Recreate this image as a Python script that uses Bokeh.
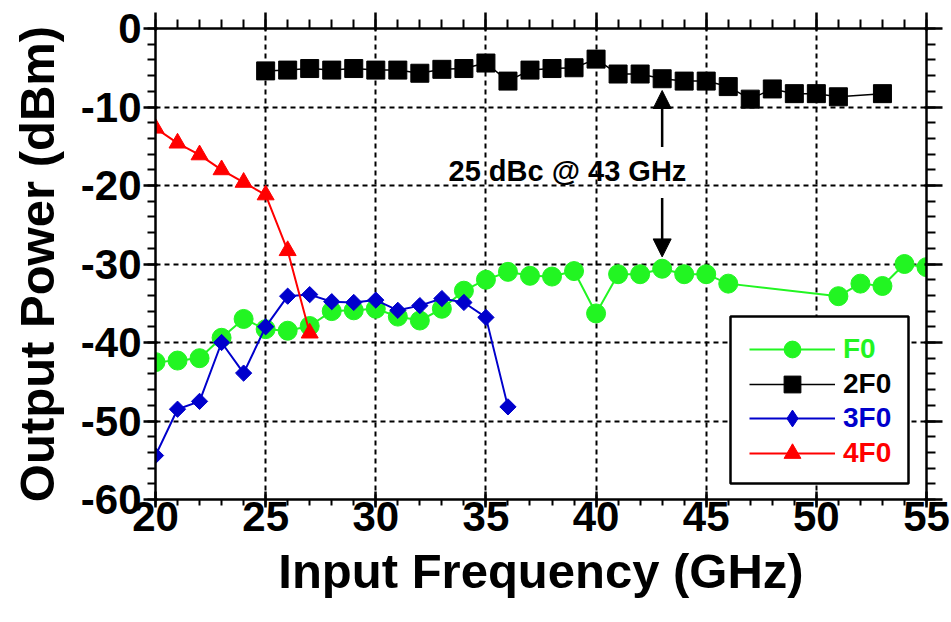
import math
from bokeh.plotting import figure
from bokeh.models import (Range1d, LinearAxis, SingleIntervalTicker, Legend, LegendItem,
                          Arrow, NormalHead, Label, BoxAnnotation, CustomJSTickFormatter)
from bokeh.embed import file_html
from bokeh.resources import INLINE

# ---------------- data ----------------
freq_f0 = [20, 21, 22, 23, 24, 25, 26, 27, 28, 29, 30, 31, 32, 33, 34, 35, 36, 37, 38, 39,
           40, 41, 42, 43, 44, 45, 46, 51, 52, 53, 54, 55]
pow_f0 = [-42.5, -42.3, -42.0, -39.4, -37.0, -38.3, -38.5, -37.9, -36.0, -35.9, -35.7, -36.7,
          -37.2, -35.7, -33.4, -32.0, -31.0, -31.5, -31.6, -30.9, -36.3, -31.3, -31.3, -30.6,
          -31.3, -31.3, -32.5, -34.1, -32.5, -32.8, -30.0, -30.4]

freq_2f0 = [25, 26, 27, 28, 29, 30, 31, 32, 33, 34, 35, 36, 37, 38, 39, 40, 41, 42, 43, 44,
            45, 46, 47, 48, 49, 50, 51, 53]
pow_2f0 = [-5.4, -5.3, -5.1, -5.3, -5.1, -5.3, -5.3, -5.7, -5.2, -5.1, -4.4, -6.7, -5.3, -5.1,
           -5.0, -3.9, -5.8, -5.8, -6.4, -6.7, -6.7, -7.4, -9.0, -7.7, -8.3, -8.3, -8.7, -8.3]

freq_3f0 = [20, 21, 22, 23, 24, 25, 26, 27, 28, 29, 30, 31, 32, 33, 34, 35, 36]
pow_3f0 = [-54.4, -48.5, -47.5, -40.0, -43.9, -38.0, -34.1, -33.9, -34.8, -34.9, -34.6, -35.9,
           -35.3, -34.4, -34.9, -36.8, -48.2]

freq_4f0 = [20, 21, 22, 23, 24, 25, 26, 27]
pow_4f0 = [-12.7, -14.6, -16.1, -18.0, -19.6, -21.2, -28.3, -38.8]

series_names = ["F0", "2F0", "3F0", "4F0"]
x_ticks_interval = 5
y_ticks_interval = 10

note_text = "25 dBc @ 43 GHz"
note_freq = 43

# ---------------- styling ----------------
FONT = "Liberation Sans"
GREEN = "#22F522"
BLACK = "#000000"
BLUE = "#0000CC"
RED = "#FF0000"

W, H = 951, 622
BL, BR, BT, BB = 155, 25, 28, 123
p = figure(width=W, height=H, x_range=Range1d(20, 55), y_range=Range1d(-60, 0),
           output_backend="svg", toolbar_location=None,
           min_border_left=BL, min_border_right=BR, min_border_top=BT, min_border_bottom=BB)
p.outline_line_color = None
p.background_fill_color = "white"

xt = SingleIntervalTicker(interval=x_ticks_interval, num_minor_ticks=5)
yt = SingleIntervalTicker(interval=y_ticks_interval, num_minor_ticks=5)
plain = CustomJSTickFormatter(code="return tick.toFixed(0);")
blank = CustomJSTickFormatter(code="return '';")

p.xaxis.ticker = xt
p.yaxis.ticker = yt
p.xaxis.formatter = plain
p.yaxis.formatter = plain
p.xgrid.ticker = xt
p.ygrid.ticker = yt
for g in (p.xgrid, p.ygrid):
    g.grid_line_color = "black"
    g.grid_line_dash = "5 4"
    g.grid_line_width = 2

p.xaxis.axis_label = "Input Frequency (GHz)"
p.yaxis.axis_label = "Output Power (dBm)"

def style_axis(ax, labels=True):
    ax.axis_line_width = 2.5
    ax.axis_line_color = "black"
    ax.major_tick_line_width = 2.5
    ax.minor_tick_line_width = 2
    ax.major_tick_line_color = "black"
    ax.minor_tick_line_color = "black"
    if labels:
        ax.major_label_text_font = FONT
        ax.major_label_text_font_style = "bold"
        ax.major_label_text_font_size = "42px"
        ax.major_label_text_color = "black"
        ax.axis_label_text_font = FONT
        ax.axis_label_text_font_style = "bold"
        ax.axis_label_text_font_size = "49px"
        ax.axis_label_text_color = "black"
    else:
        ax.formatter = blank
        ax.major_label_standoff = 0

style_axis(p.xaxis[0])
style_axis(p.yaxis[0])
p.xaxis.major_tick_in = 8
p.xaxis.major_tick_out = 8
p.xaxis.minor_tick_in = 0
p.xaxis.minor_tick_out = 6
p.xaxis.major_label_standoff = -6
p.xaxis.axis_label_standoff = 10

p.yaxis.major_tick_in = 2
p.yaxis.major_tick_out = 12
p.yaxis.minor_tick_in = 0
p.yaxis.minor_tick_out = 8
p.yaxis.major_label_standoff = 2
p.yaxis.axis_label_standoff = 14

right = LinearAxis(ticker=yt)
style_axis(right, labels=False)
right.major_tick_in = 2
right.major_tick_out = 16
right.minor_tick_in = 0
right.minor_tick_out = 9
p.add_layout(right, "right")

top = LinearAxis(ticker=xt)
style_axis(top, labels=False)
top.major_tick_in = 2
top.major_tick_out = 16
top.minor_tick_in = 0
top.minor_tick_out = 9
p.add_layout(top, "above")

# ---------------- series ----------------
l1 = p.line(freq_f0, pow_f0, line_color=GREEN, line_width=2)
s1 = p.scatter(freq_f0, pow_f0, marker="circle", size=19, fill_color=GREEN, line_color=GREEN)
l2 = p.line(freq_2f0, pow_2f0, line_color=BLACK, line_width=1.5)
s2 = p.scatter(freq_2f0, pow_2f0, marker="square", size=18, fill_color=BLACK, line_color=BLACK)
l3 = p.line(freq_3f0, pow_3f0, line_color=BLUE, line_width=2)
s3 = p.scatter(freq_3f0, pow_3f0, marker="square", angle=math.pi / 4, size=11.5,
               fill_color=BLUE, line_color=BLUE)
# legend glyph for 3F0: legend markers ignore angle, so use a diamond of zero plot size
# (legend markers are sized from the legend glyph box, not from the renderer)
s3_leg = p.scatter(freq_3f0, pow_3f0, marker="diamond", size=0, fill_color=BLUE,
                   line_color=BLUE, line_width=1)
l4 = p.line(freq_4f0, pow_4f0, line_color=RED, line_width=2)
s4 = p.scatter(freq_4f0, pow_4f0, marker="triangle", size=17, fill_color=RED, line_color=RED)

# ---------------- annotation ----------------
f0_at = pow_f0[freq_f0.index(note_freq)]
h2_at = pow_2f0[freq_2f0.index(note_freq)]
p.add_layout(Label(x=38.7, y=-18.1, text=note_text, text_align="center", text_baseline="middle",
                   text_font=FONT, text_font_style="bold", text_font_size="29px", text_color="black"))
p.add_layout(Arrow(end=NormalHead(size=18, fill_color="black", line_color="black"),
                   x_start=note_freq, y_start=-15.1, x_end=note_freq, y_end=h2_at - 1.5,
                   line_width=2.5, line_color="black"))
p.add_layout(Arrow(end=NormalHead(size=18, fill_color="black", line_color="black"),
                   x_start=note_freq, y_start=-21.6, x_end=note_freq, y_end=f0_at + 1.5,
                   line_width=2.5, line_color="black"))

# ---------------- legend ----------------
FW = W - BL - BR
FH = H - BT - BB
sx = (55 - 20) / FW
sy = 60 / FH
p.add_layout(BoxAnnotation(left=20 + 575 * sx, right=20 + 753 * sx,
                           bottom=-60 + 16 * sy, top=-60 + 183 * sy,
                           fill_color="white", fill_alpha=1.0,
                           line_color="black", line_alpha=1.0, line_width=2.5))

entries = [(series_names[0], [l1, s1], GREEN), (series_names[1], [l2, s2], BLACK),
           (series_names[2], [l3, s3_leg], BLUE), (series_names[3], [l4, s4], RED)]
item_centers = [150, 115.5, 81, 46.5]
for (name, rends, col), cy in zip(entries, item_centers):
    lg = Legend(items=[LegendItem(label=name, renderers=rends)],
                location=(594, cy - 21), padding=0, margin=0, spacing=0,
                glyph_width=86, glyph_height=42, label_height=42, label_standoff=8,
                label_text_font=FONT, label_text_font_style="bold", label_text_font_size="28px",
                label_text_color=col, border_line_alpha=0, background_fill_alpha=0)
    p.add_layout(lg)

open("out.html", "w").write(file_html(p, INLINE))
